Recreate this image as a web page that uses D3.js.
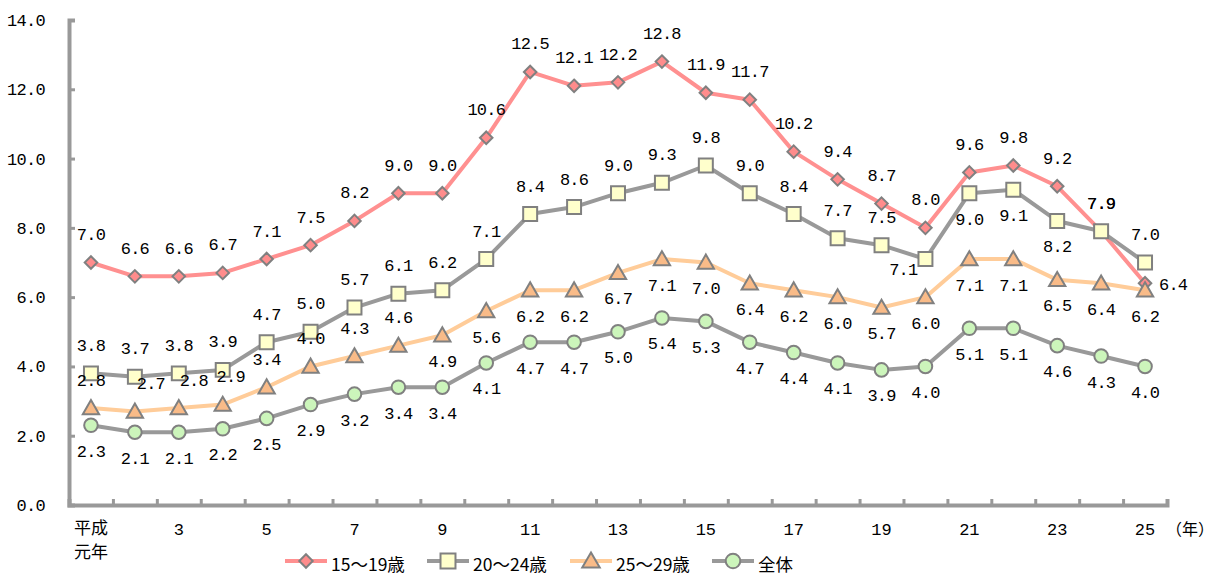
<!DOCTYPE html>
<html>
<head>
<meta charset="utf-8">
<script src="https://cdn.jsdelivr.net/npm/d3@7"></script>
<style>
  body { margin: 0; background: #fff; }
  svg { display: block; }
</style>
</head>
<body>
<svg id="chart" width="1213" height="574"></svg>
<script>
// 平成元年〜25年
const years = d3.range(1, 26)
const tickLabels = ["平成元年", "", "3", "", "5", "", "7", "", "9", "", "11", "", "13", "", "15", "", "17", "", "19", "", "21", "", "23", "", "25"]

const teen = [7.0, 6.6, 6.6, 6.7, 7.1, 7.5, 8.2, 9.0, 9.0, 10.6, 12.5, 12.1, 12.2, 12.8, 11.9, 11.7, 10.2, 9.4, 8.7, 8.0, 9.6, 9.8, 9.2, 7.9, 6.4]
const early20s = [3.8, 3.7, 3.8, 3.9, 4.7, 5.0, 5.7, 6.1, 6.2, 7.1, 8.4, 8.6, 9.0, 9.3, 9.8, 9.0, 8.4, 7.7, 7.5, 7.1, 9.0, 9.1, 8.2, 7.9, 7.0]
const late20s = [2.8, 2.7, 2.8, 2.9, 3.4, 4.0, 4.3, 4.6, 4.9, 5.6, 6.2, 6.2, 6.7, 7.1, 7.0, 6.4, 6.2, 6.0, 5.7, 6.0, 7.1, 7.1, 6.5, 6.4, 6.2]
const overall = [2.3, 2.1, 2.1, 2.2, 2.5, 2.9, 3.2, 3.4, 3.4, 4.1, 4.7, 4.7, 5.0, 5.4, 5.3, 4.7, 4.4, 4.1, 3.9, 4.0, 5.1, 5.1, 4.6, 4.3, 4.0]

const seriesNames = ["15～19歳", "20～24歳", "25～29歳", "全体"]

const numFont = "'Liberation Mono', 'DejaVu Sans Mono', monospace"
const jpFont = "'Noto Sans CJK JP', sans-serif"
const axisColor = "#999999"

const series = [
    { name: seriesNames[0], values: teen, line: "#ff9090", fill: "#ff8c8c", shape: d3.symbolDiamond2, size: 100,
      place: i => i === 24 ? "right" : "above" },
    { name: seriesNames[1], values: early20s, line: "#999999", fill: "#ffffcc", shape: d3.symbolSquare, size: 195,
      place: i => i === 19 ? "left" : (i >= 20 && i <= 22 ? "below" : "above") },
    { name: seriesNames[2], values: late20s, line: "#ffcc99", fill: "#f9bb88", shape: d3.symbolTriangle, size: 115,
      place: i => i < 8 ? "above" : "below",
      nudge: { 1: 16, 2: 15, 3: 8 } },
    { name: seriesNames[3], values: overall, line: "#999999", fill: "#ccf5bb", shape: d3.symbolCircle, size: 145,
      place: () => "below" }
]

const svg = d3.select("#chart")

const x = d3.scaleBand().domain(years).range([69, 1167])
const y = d3.scaleLinear().domain([0, 14]).range([505, 20])
const cx = d => x(d) + x.bandwidth() / 2

// y axis
const yAxis = svg.append("g")
    .attr("transform", "translate(69,0)")
    .call(d3.axisLeft(y).tickValues(d3.range(0, 15, 2)).tickSize(-6).tickPadding(24).tickFormat(d3.format(".1f")))
yAxis.select(".domain").attr("stroke", axisColor).attr("stroke-width", 4)
yAxis.selectAll(".tick line").attr("stroke", axisColor).attr("stroke-width", 3)
yAxis.selectAll(".tick text").attr("font-family", numFont).attr("font-size", 17)
    .attr("letter-spacing", -0.7).attr("fill", "#000")

// x axis: ticks at band edges, labels at band centres
const edges = years.map(d => x(d)).concat([x.range()[1]])
const xEdge = d3.scaleLinear().domain([69, 1167]).range([69, 1167])
const xAxis = svg.append("g")
    .attr("transform", "translate(0,505)")
    .call(d3.axisBottom(xEdge).tickValues(edges).tickSize(-6).tickFormat(""))
xAxis.select(".domain").attr("stroke", axisColor).attr("stroke-width", 4)
xAxis.selectAll(".tick line").attr("stroke", axisColor).attr("stroke-width", 3)

const xText = svg.append("g")
years.forEach((d, i) => {
    const lab = tickLabels[i]
    if (!lab) return
    const t = xText.append("text")
        .attr("x", cx(d))
        .attr("text-anchor", "middle")
        .attr("font-size", 17)
        .attr("font-family", lab.length > 2 ? jpFont : numFont)
    if (lab.length > 2) {
        t.append("tspan").attr("x", cx(d)).attr("y", 534).text(lab.slice(0, 2))
        t.append("tspan").attr("x", cx(d)).attr("y", 558).text(lab.slice(2))
    } else {
        t.attr("y", 535).text(lab)
    }
})
svg.append("text")
    .attr("x", 1190).attr("y", 535)
    .attr("text-anchor", "middle")
    .attr("font-family", jpFont).attr("font-size", 16)
    .text("（年）")

// series
const line = d3.line().x((v, i) => cx(years[i])).y(v => y(v))
const fmt = d3.format(".1f")

series.forEach(s => {
    const g = svg.append("g")
    g.append("path")
        .attr("d", line(s.values))
        .attr("fill", "none")
        .attr("stroke", s.line)
        .attr("stroke-width", 4)
        .attr("stroke-linejoin", "round")
    g.selectAll("path.mark")
        .data(s.values)
        .join("path")
        .attr("class", "mark")
        .attr("transform", (v, i) => `translate(${cx(years[i])},${y(v) + (s.shape === d3.symbolTriangle ? 1.5 : 0)})`)
        .attr("d", d3.symbol(s.shape, s.size))
        .attr("fill", s.fill)
        .attr("stroke", "#808080")
        .attr("stroke-width", 2)
})

// data labels
series.forEach(s => {
    svg.append("g").selectAll("text")
        .data(s.values)
        .join("text")
        .attr("font-family", numFont)
        .attr("font-size", 17)
        .attr("letter-spacing", -0.8)
        .attr("fill", "#000")
        .attr("dominant-baseline", "central")
        .each(function (v, i) {
            const p = s.place(i)
            const px = cx(years[i]) + ((s.nudge && s.nudge[i]) || 0)
            const py = y(v)
            const t = d3.select(this).text(fmt(v))
            if (p === "above") t.attr("x", px).attr("y", py - 27).attr("text-anchor", "middle")
            else if (p === "below") t.attr("x", px).attr("y", py + 27).attr("text-anchor", "middle")
            else if (p === "right") t.attr("x", px + 14).attr("y", py + 2).attr("text-anchor", "start")
            else t.attr("x", px - 8).attr("y", py + 11).attr("text-anchor", "end")
        })
})

// legend
const legendX = [285, 427, 570, 712]
const legend = svg.append("g").attr("transform", "translate(0,561)")
series.forEach((s, i) => {
    const g = legend.append("g").attr("transform", `translate(${legendX[i]},0)`)
    g.append("line").attr("x1", 0).attr("x2", 42)
        .attr("stroke", s.line).attr("stroke-width", 4)
    g.append("path")
        .attr("transform", `translate(21,${s.shape === d3.symbolTriangle ? 1.5 : 0})`)
        .attr("d", d3.symbol(s.shape, s.size * 1.15))
        .attr("fill", s.fill).attr("stroke", "#808080").attr("stroke-width", 2)
    g.append("text")
        .attr("x", 46).attr("y", 2)
        .attr("dominant-baseline", "central")
        .attr("font-family", jpFont).attr("font-size", 17.5)
        .text(s.name)
})
</script>
</body>
</html>
